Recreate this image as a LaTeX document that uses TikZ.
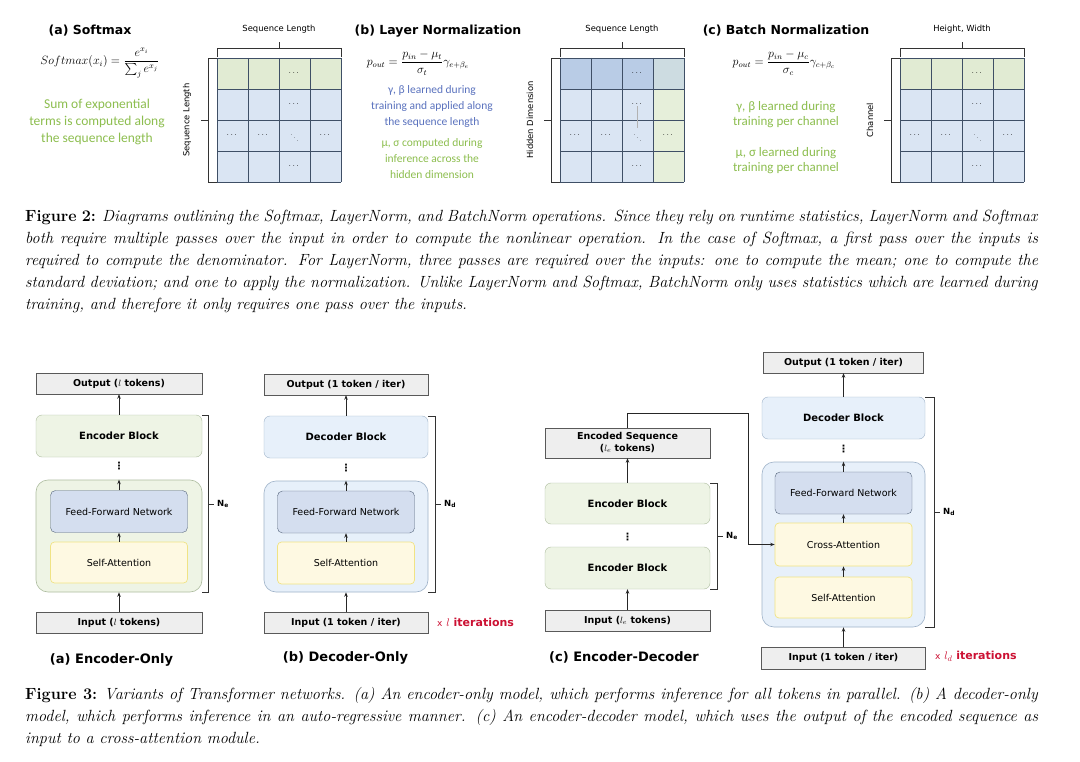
\documentclass[tikz,border=0pt]{standalone}
\usepackage{amsmath}
\usepackage{fontspec}
\usepackage{xcolor}
\usetikzlibrary{arrows.meta,positioning}
\newfontfamily\dvsans{DejaVu Sans}
\newfontfamily\carlito{Carlito}
\definecolor{cellblue}{HTML}{DAE5F3}
\definecolor{cellgreen}{HTML}{E1EBD3}
\definecolor{celldeep}{HTML}{B9CCE6}
\definecolor{cellpale}{HTML}{E6EFDA}
\definecolor{gridline}{HTML}{3F4F66}
\definecolor{notegreen}{HTML}{8DBE4F}
\definecolor{noteblue}{HTML}{5A72BE}
\definecolor{iofill}{HTML}{EEEEEE}
\definecolor{encfill}{HTML}{EEF4E5}
\definecolor{encdraw}{HTML}{AEBDA0}
\definecolor{decfill}{HTML}{E7F0FA}
\definecolor{decdraw}{HTML}{9FB3C9}
\definecolor{ffnfill}{HTML}{D4DEEF}
\definecolor{ffndraw}{HTML}{56667C}
\definecolor{attnfill}{HTML}{FEF9E2}
\definecolor{attndraw}{HTML}{F0E384}
\definecolor{iterred}{HTML}{CC1133}
\begin{document}
\begin{tikzpicture}[x=1pt,y=-1pt,
  gridrule/.style={draw=gridline,line width=0.6pt},
  celldots/.style={inner sep=0pt,font=\fontsize{6.5}{6.5}\selectfont\boldmath},
  bracket/.style={draw=black!80,line width=0.7pt},
  gridlabel/.style={font=\dvsans\fontsize{8.4}{10}\selectfont},
  paneltitle/.style={font=\dvsans\bfseries\fontsize{12.5}{14}\selectfont},
  formula/.style={font=\fontsize{12}{14}\selectfont},
  notetext/.style={align=center,inner sep=0pt,font=\carlito\fontsize{13.5}{17}\selectfont},
  figcaption/.style={anchor=north west,align=left,inner sep=0pt,font=\fontsize{16.2}{22}\selectfont},
  iobox/.style={draw=black!65,fill=iofill,minimum height=21pt,inner sep=1pt,font=\dvsans\bfseries\fontsize{9.5}{12}\selectfont},
  encblock/.style={draw=encdraw,fill=encfill,rounded corners=6pt,minimum height=42pt,font=\dvsans\bfseries\fontsize{10}{12}\selectfont},
  decblock/.style={encblock,draw=decdraw,fill=decfill},
  stackbox/.style={rounded corners=12pt,line width=0.6pt},
  encstack/.style={draw=encdraw,fill=encfill},
  decstack/.style={draw=decdraw,fill=decfill},
  ffnbox/.style={draw=ffndraw,fill=ffnfill,rounded corners=5pt,minimum width=137pt,minimum height=42pt,font=\dvsans\fontsize{9.5}{11}\selectfont},
  attnbox/.style={draw=attndraw,fill=attnfill,rounded corners=4pt,line width=0.7pt,minimum width=137pt,minimum height=41pt,font=\dvsans\fontsize{9.5}{11}\selectfont},
  vdotsnode/.style={inner sep=0pt,font=\dvsans\bfseries\fontsize{10}{10}\selectfont},
  flow/.style={-{Stealth[length=4.5pt,width=3.5pt]},line width=0.8pt,draw=black!85},
  nlabel/.style={anchor=west,inner sep=1pt,font=\dvsans\bfseries\fontsize{8.5}{10}\selectfont},
  figlabel/.style={font=\dvsans\bfseries\fontsize{13}{15}\selectfont},
  iterlabel/.style={anchor=west,inner sep=0pt,text=iterred,font=\dvsans\bfseries\fontsize{11}{13}\selectfont}]
\useasboundingbox (0,0) rectangle (1080,762);
\fill[white] (0,0) rectangle (1080,762);

% softmax cells
\fill[cellblue] (217,58) rectangle (341,182);
\fill[cellgreen] (217,58) rectangle (341,89);
% layernorm cells
\fill[cellblue] (560,58) rectangle (684,182);
\fill[celldeep] (560,58) rectangle (684,89);
\fill[cellpale] (653,89) rectangle (684,182);
\fill[celldeep!55!cellpale] (653,58) rectangle (684,89);
% batchnorm cells
\fill[cellblue] (900,58) rectangle (1024,182);
\fill[cellgreen] (900,58) rectangle (1024,89);

% grids, dots and brackets
\foreach \gx/\gn/\toplab/\sidelab in {217/sm/Sequence Length/Sequence Length,560/ln/Sequence Length/Hidden Dimension,900/bn/{Height, Width}/Channel} {
  \foreach \k in {0,...,4} {
    \draw[gridrule] (\gx+31*\k,58) -- (\gx+31*\k,182);
    \draw[gridrule] (\gx,58+31*\k) -- (\gx+124,58+31*\k);
  }
  \foreach \c/\r in {2/0,2/1,2/3,0/2,1/2,3/2}
    \node[celldots] (\gn-\c-\r) at (\gx+31*\c+15.5,58+31*\r+15.5) {$\cdots$};
  \node[celldots] (\gn-2-2) at (\gx+77.5,135.5) {$\ddots$};
  \draw[bracket] (\gx,57) -- (\gx,48) -- (\gx+124,48) -- (\gx+124,57);
  \draw[bracket] (\gx+62,48) -- (\gx+62,42);
  \draw[bracket] (\gx,58) -- (\gx-9,58) -- (\gx-9,182) -- (\gx,182);
  \draw[bracket] (\gx-9,120) -- (\gx-16,120);
  \node[gridlabel] (\gn-top) at (\gx+62,29) {\toplab};
  \node[gridlabel,rotate=90] (\gn-side) at (\gx-30,120) {\sidelab};
}
\draw[black!30,line width=0.4pt] (ln-2-1) -- (ln-2-2);

% panel texts
\node[paneltitle] (smtitle) at (90,31) {(a) Softmax};
\node[formula] (smeq) at (100,63) {$\displaystyle Softmax(x_i)=\frac{e^{x_i}}{\sum_j e^{x_j}}$};
\node[notetext,text=notegreen] (smnote) at (97,122) {Sum of exponential\\terms is computed along\\the sequence length};
\node[paneltitle] (lntitle) at (438,31) {(b) Layer Normalization};
\node[formula] (lneq) at (418,63) {$\displaystyle p_{out}=\frac{p_{in}-\mu_t}{\sigma_t}\gamma_{e+\beta_e}$};
\node[notetext,text=noteblue,font=\carlito\fontsize{11.5}{16}\selectfont] (lnlearn) at (432,106) {γ, β learned during\\training and applied along\\the sequence length};
\node[notetext,text=notegreen,font=\carlito\fontsize{11.5}{16}\selectfont] (lnstat) at (432,159) {μ, σ computed during\\inference across the\\hidden dimension};
\node[paneltitle] (bntitle) at (786,31) {(c) Batch Normalization};
\node[formula] (bneq) at (784,63) {$\displaystyle p_{out}=\frac{p_{in}-\mu_c}{\sigma_c}\gamma_{c+\beta_c}$};
\node[notetext,text=notegreen,font=\carlito\fontsize{13}{15}\selectfont] (bnlearn) at (786,114.5) {γ, β learned during\\training per channel};
\node[notetext,text=notegreen,font=\carlito\fontsize{13}{15}\selectfont] (bnstat) at (786,160.5) {μ, σ learned during\\training per channel};

% caption of figure 2
\node[figcaption] (captwo) at (25,210) {%
\makebox[1013pt][s]{\textbf{Figure 2:} \textit{Diagrams outlining the Softmax, LayerNorm, and BatchNorm operations. Since they rely on runtime statistics, LayerNorm and Softmax}}\\
\makebox[1013pt][s]{\textit{both require multiple passes over the input in order to compute the nonlinear operation. In the case of Softmax, a first pass over the inputs is}}\\
\makebox[1013pt][s]{\textit{required to compute the denominator. For LayerNorm, three passes are required over the inputs: one to compute the mean; one to compute the}}\\
\makebox[1013pt][s]{\textit{standard deviation; and one to apply the normalization. Unlike LayerNorm and Softmax, BatchNorm only uses statistics which are learned during}}\\
\textit{training, and therefore it only requires one pass over the inputs.}};

% (a) encoder-only
\node[stackbox,encstack,minimum width=166pt,minimum height=112pt] (stackA) at (119,536) {};
\node[iobox,minimum width=166pt] (outA) at (119,383.5) {Output ($l$ tokens)};
\node[encblock,minimum width=166pt] (encA) at (119,436) {Encoder Block};
\node[vdotsnode] (dotsA) at (119,466) {⋮};
\node[ffnbox] (ffnA) at (119,511.5) {Feed-Forward Network};
\node[attnbox] (saA) at (119,562.5) {Self-Attention};
\node[iobox,minimum width=166pt] (inA) at (119,622.5) {Input ($l$ tokens)};
\draw[flow] (inA) -- (stackA);
\draw[flow] (saA) -- (ffnA);
\draw[flow] (ffnA) -- (stackA.north);
\draw[flow] (encA) -- (outA);
\draw[bracket] (202,415) -- (208,415) -- (208,592) -- (202,592);
\draw[bracket] (208,504) -- (214,504);
\node[nlabel] (nA) at (216,504) {N\textsubscript{e}};
\node[figlabel] (labA) at (111.5,660) {(a) Encoder-Only};

% (b) decoder-only
\node[stackbox,decstack,minimum width=164pt,minimum height=111pt] (stackB) at (346,536.5) {};
\node[iobox,minimum width=164pt] (outB) at (346,384.5) {Output (1 token / iter)};
\node[decblock,minimum width=164pt] (decB) at (346,437) {Decoder Block};
\node[vdotsnode] (dotsB) at (346,468) {⋮};
\node[ffnbox] (ffnB) at (346,512) {Feed-Forward Network};
\node[attnbox,minimum height=42pt] (saB) at (346,563) {Self-Attention};
\node[iobox,minimum width=164pt] (inB) at (346,622.5) {Input (1 token / iter)};
\draw[flow] (inB) -- (stackB);
\draw[flow] (saB) -- (ffnB);
\draw[flow] (ffnB) -- (stackB.north);
\draw[flow] (decB) -- (outB);
\draw[bracket] (428,416) -- (435,416) -- (435,592) -- (428,592);
\draw[bracket] (435,504) -- (441,504);
\node[nlabel] (nB) at (443,504) {N\textsubscript{d}};
\node[iterlabel] (iterB) at (437,622) {{\mdseries\fontsize{9}{11}\selectfont x} $l$ iterations};
\node[figlabel] (labB) at (345.5,658) {(b) Decoder-Only};

% (c) encoder-decoder: encoder side
\node[iobox,minimum width=165pt,minimum height=30pt,align=center] (encSeq) at (627.5,443) {Encoded Sequence\\($l_e$ tokens)};
\node[encblock,minimum width=165pt,minimum height=41pt] (encC1) at (627.5,503.5) {Encoder Block};
\node[vdotsnode] (dotsC) at (627.5,537) {⋮};
\node[encblock,minimum width=165pt] (encC2) at (627.5,568) {Encoder Block};
\node[iobox,minimum width=165pt] (inC) at (627.5,620.5) {Input ($l_e$ tokens)};
\draw[flow] (inC) -- (encC2);
\draw[flow] (encC1) -- (encSeq);
\draw[bracket] (710,483) -- (717,483) -- (717,589) -- (710,589);
\draw[bracket] (717,536) -- (723,536);
\node[nlabel] (nC) at (725,536) {N\textsubscript{e}};
\node[figlabel] (labC) at (624,657) {(c) Encoder-Decoder};

% (c) encoder-decoder: decoder side
\node[stackbox,decstack,minimum width=163pt,minimum height=165pt] (stackD) at (843.5,544.5) {};
\node[iobox,minimum width=160pt] (outD) at (843.5,362.5) {Output (1 token / iter)};
\node[decblock,minimum width=163pt] (decD) at (843.5,418) {Decoder Block};
\node[vdotsnode] (dotsD) at (843.5,449) {⋮};
\node[ffnbox] (ffnD) at (843.5,493) {Feed-Forward Network};
\node[attnbox,minimum height=43pt] (crossD) at (843.5,544.5) {Cross-Attention};
\node[attnbox] (saD) at (843.5,597.5) {Self-Attention};
\node[iobox,minimum width=164pt,minimum height=22pt] (inD) at (843.5,658) {Input (1 token / iter)};
\draw[flow] (inD) -- (stackD);
\draw[flow] (saD) -- (crossD);
\draw[flow] (crossD) -- (ffnD);
\draw[flow] (ffnD) -- (stackD.north);
\draw[flow] (decD) -- (outD);
\coordinate (encTurn) at (748,413);
\draw[flow] (encSeq.north) |- (encTurn) |- (crossD.west);
\draw[bracket] (925,397) -- (934,397) -- (934,627) -- (925,627);
\draw[bracket] (934,512) -- (940,512);
\node[nlabel] (nD) at (942,512) {N\textsubscript{d}};
\node[iterlabel] (iterD) at (935,656) {{\mdseries\fontsize{9}{11}\selectfont x} $l_d$ iterations};

% caption of figure 3
\node[figcaption] (capthree) at (25,687) {%
\makebox[1013pt][s]{\textbf{Figure 3:} \textit{Variants of Transformer networks. (a) An encoder-only model, which performs inference for all tokens in parallel. (b) A decoder-only}}\\
\makebox[1013pt][s]{\textit{model, which performs inference in an auto-regressive manner. (c) An encoder-decoder model, which uses the output of the encoded sequence as}}\\
\textit{input to a cross-attention module.}};
\end{tikzpicture}
\end{document}
